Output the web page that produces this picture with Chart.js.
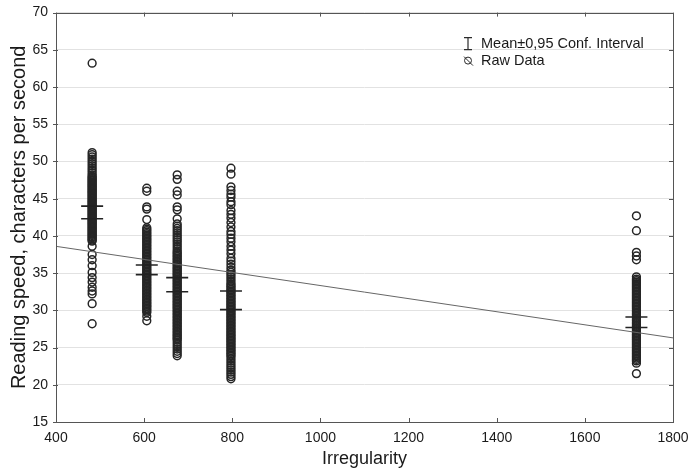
<!DOCTYPE html>
<html>
<head>
<meta charset="utf-8">
<script src="https://cdn.jsdelivr.net/npm/chart.js@4"></script>
<style>
html,body{margin:0;padding:0;background:#fff;}
#wrap{width:689px;height:471px;position:relative;}
</style>
</head>
<body>
<div id="wrap"><canvas id="c"></canvas></div>
<script>
// ---- data ----
const groupX = [482, 606, 675, 797, 1717];
const raw482 = [63.2, 51.2, 50.9, 50.6, 50.3, 50.0, 49.7, 49.4, 49.1, 48.8, 48.5, 48.2, 48.0, 47.85, 47.7, 47.55, 47.4, 47.25, 47.1, 46.95, 46.8, 46.65, 46.5, 46.35, 46.2, 46.05, 45.9, 45.75, 45.6, 45.45, 45.3, 45.15, 45.0, 44.85, 44.7, 44.55, 44.4, 44.25, 44.1, 43.95, 43.8, 43.65, 43.5, 43.35, 43.2, 43.05, 42.9, 42.75, 42.6, 42.45, 42.3, 42.15, 42.0, 41.85, 41.7, 41.55, 41.4, 41.25, 41.1, 40.95, 40.8, 40.65, 40.5, 40.35, 40.2, 40.05, 39.9, 39.75, 39.6, 39.45, 39.3, 38.6, 37.5, 36.8, 36.0, 35.1, 34.4, 33.8, 33.1, 32.6, 32.2, 30.9, 28.2];
const raw606 = [46.4, 46.0, 43.9, 43.6, 42.2, 41.1, 40.9, 40.7, 40.5, 40.3, 40.1, 39.9, 39.7, 39.5, 39.3, 39.1, 38.9, 38.7, 38.5, 38.3, 38.1, 37.9, 37.7, 37.5, 37.3, 37.1, 36.9, 36.7, 36.5, 36.3, 36.1, 35.9, 35.7, 35.5, 35.3, 35.1, 34.9, 34.7, 34.5, 34.3, 34.1, 33.9, 33.7, 33.5, 33.3, 33.1, 32.9, 32.7, 32.5, 32.3, 32.1, 31.9, 31.7, 31.5, 31.3, 31.1, 30.9, 30.7, 30.5, 30.3, 30.1, 29.9, 29.7, 29.2, 28.6];
const raw675 = [48.2, 47.6, 46.0, 45.5, 43.9, 43.5, 42.3, 41.6, 41.3, 41.0, 40.7, 40.4, 40.1, 39.8, 39.5, 39.2, 38.9, 38.6, 38.3, 38.0, 37.8, 37.6, 37.4, 37.2, 37.0, 36.8, 36.6, 36.4, 36.2, 36.0, 35.8, 35.6, 35.4, 35.2, 35.0, 34.8, 34.6, 34.4, 34.2, 34.0, 33.8, 33.6, 33.4, 33.2, 33.0, 32.8, 32.6, 32.4, 32.2, 32.0, 31.8, 31.6, 31.4, 31.2, 31.0, 30.8, 30.6, 30.4, 30.2, 30.0, 29.8, 29.6, 29.4, 29.2, 29.0, 28.8, 28.6, 28.4, 28.2, 28.0, 27.8, 27.6, 27.4, 27.2, 27.0, 26.8, 26.6, 26.4, 26.2, 26.0, 25.7, 25.4, 25.1, 24.8, 24.5, 24.2, 23.9];
const raw797 = [49.1, 48.3, 46.6, 46.1, 45.6, 45.2, 44.6, 44.2, 43.4, 42.9, 42.4, 41.8, 41.2, 40.6, 40.2, 39.7, 39.2, 38.6, 38.1, 37.6, 37.0, 36.6, 36.2, 35.8, 35.4, 35.1, 34.8, 34.5, 34.2, 33.9, 33.6, 33.4, 33.2, 33.0, 32.8, 32.6, 32.4, 32.2, 32.0, 31.8, 31.6, 31.4, 31.2, 31.0, 30.8, 30.6, 30.4, 30.2, 30.0, 29.8, 29.6, 29.4, 29.2, 29.0, 28.8, 28.6, 28.4, 28.2, 28.0, 27.8, 27.6, 27.4, 27.2, 27.0, 26.8, 26.6, 26.4, 26.2, 26.0, 25.8, 25.6, 25.4, 25.2, 25.0, 24.8, 24.6, 24.4, 24.2, 24.0, 23.8, 23.5, 23.2, 22.9, 22.6, 22.3, 22.0, 21.7, 21.4, 21.1, 20.8];
const raw1717 = [42.7, 40.7, 37.8, 37.3, 36.8, 34.5, 34.2, 34.0, 33.8, 33.6, 33.4, 33.2, 33.0, 32.8, 32.6, 32.4, 32.2, 32.0, 31.8, 31.6, 31.4, 31.2, 31.0, 30.8, 30.6, 30.4, 30.2, 30.0, 29.8, 29.6, 29.4, 29.2, 29.0, 28.8, 28.6, 28.4, 28.2, 28.0, 27.8, 27.6, 27.4, 27.2, 27.0, 26.8, 26.6, 26.4, 26.2, 26.0, 25.8, 25.6, 25.4, 25.2, 25.0, 24.8, 24.6, 24.4, 24.2, 24.0, 23.8, 23.6, 23.4, 23.2, 22.9, 21.5];
const ciUpper = [44.0, 36.1, 34.4, 32.6, 29.1];
const ciLower = [42.3, 34.8, 32.5, 30.1, 27.7];
const fitX = [400, 1800];
const fitY = [38.6, 26.3];
const xTicks = [400, 600, 800, 1000, 1200, 1400, 1600, 1800];
const yTicks = [15, 20, 25, 30, 35, 40, 45, 50, 55, 60, 65, 70];
const legendLabels = ['Mean\u00b10,95 Conf. Interval', 'Raw Data'];
const xTitle = 'Irregularity';
const yTitle = 'Reading speed, characters per second';

// ---- build datasets ----
const rawGroups = [raw482, raw606, raw675, raw797, raw1717];
const rawPoints = [];
rawGroups.forEach((g, i) => g.forEach(v => rawPoints.push({x: groupX[i], y: v})));
const capPoints = [];
groupX.forEach((x, i) => { capPoints.push({x, y: ciUpper[i]}); capPoints.push({x, y: ciLower[i]}); });
const fitPoints = fitX.map((x, i) => ({x, y: fitY[i]}));

const FONT = '"Liberation Sans", Arial, sans-serif';
const DARK = '#2b2b2b';

const framePlugin = {
  id: 'frame',
  afterDatasetsDraw(chart) {
    const {ctx, chartArea: a, scales} = chart;
    ctx.save();
    ctx.strokeStyle = '#555';
    ctx.lineWidth = 1;
    ctx.strokeRect(Math.round(a.left) + 0.5, Math.round(a.top) + 0.5, Math.round(a.right - a.left), Math.round(a.bottom - a.top));
    ctx.beginPath();
    xTicks.forEach(v => {
      const px = Math.round(scales.x.getPixelForValue(v)) + 0.5;
      ctx.moveTo(px, a.bottom); ctx.lineTo(px, a.bottom - 4);
      ctx.moveTo(px, a.top); ctx.lineTo(px, a.top + 4);
    });
    yTicks.forEach(v => {
      const py = Math.round(scales.y.getPixelForValue(v)) + 0.5;
      ctx.moveTo(a.left - 3, py); ctx.lineTo(a.left + 2, py);
      ctx.moveTo(a.right, py); ctx.lineTo(a.right - 4, py);
    });
    ctx.stroke();
    // legend
    const lx = a.left + 412, ly1 = a.top + 31, ly2 = a.top + 48;
    ctx.strokeStyle = DARK;
    ctx.lineWidth = 1.2;
    ctx.beginPath();
    ctx.moveTo(lx, ly1 - 6); ctx.lineTo(lx, ly1 + 6);
    ctx.moveTo(lx - 4, ly1 - 6); ctx.lineTo(lx + 4, ly1 - 6);
    ctx.moveTo(lx - 4, ly1 + 6); ctx.lineTo(lx + 4, ly1 + 6);
    ctx.stroke();
    ctx.lineWidth = 1;
    ctx.beginPath();
    ctx.arc(lx, ly2, 3.5, 0, Math.PI * 2);
    ctx.stroke();
    ctx.beginPath();
    ctx.moveTo(lx - 4, ly2 - 4); ctx.lineTo(lx + 5, ly2 + 5);
    ctx.stroke();
    ctx.fillStyle = '#1a1a1a';
    ctx.font = '14.5px ' + FONT;
    ctx.textBaseline = 'middle';
    ctx.textAlign = 'left';
    ctx.fillText(legendLabels[0], lx + 13, ly1);
    ctx.fillText(legendLabels[1], lx + 13, ly2);
    ctx.restore();
  }
};

new Chart(document.getElementById('c'), {
  type: 'scatter',
  data: {
    datasets: [
      {
        label: legendLabels[1],
        data: rawPoints,
        pointStyle: 'circle',
        pointRadius: 3.9,
        pointBorderWidth: 1.5,
        pointBorderColor: '#262626',
        pointBackgroundColor: 'rgba(0,0,0,0)',
        order: 3
      },
      {
        label: 'fit',
        type: 'line',
        data: fitPoints,
        showLine: true,
        borderColor: '#666',
        borderWidth: 1,
        pointRadius: 0,
        order: 2
      },
      {
        label: legendLabels[0],
        data: capPoints,
        pointStyle: 'line',
        pointRadius: 11,
        pointBorderWidth: 1.6,
        pointBorderColor: '#222',
        order: 1
      }
    ]
  },
  options: {
    responsive: true,
    maintainAspectRatio: false,
    animation: false,
    events: [],
    layout: {padding: {top: 12, right: 16, left: 0, bottom: 0}},
    plugins: {legend: {display: false}, tooltip: {enabled: false}},
    scales: {
      x: {
        type: 'linear', min: 400, max: 1800,
        afterBuildTicks: s => { s.ticks = xTicks.map(v => ({value: v})); },
        afterFit: s => { s.height = 49; s.paddingLeft = 0; s.paddingRight = 0; },
        grid: {display: false, drawTicks: false},
        border: {display: false},
        ticks: {color: '#1a1a1a', font: {family: FONT, size: 14}, padding: 8, maxRotation: 0, callback: v => String(v)},
        title: {display: true, text: xTitle, color: '#1a1a1a', font: {family: FONT, size: 18}, padding: {top: 0, bottom: 1}}
      },
      y: {
        type: 'linear', min: 15, max: 70,
        afterBuildTicks: s => { s.ticks = yTicks.map(v => ({value: v})); },
        afterFit: s => { s.width = 56; s.paddingTop = 0; s.paddingBottom = 0; },
        grid: {color: '#e2e2e2', drawTicks: false, lineWidth: 1},
        border: {display: false},
        ticks: {color: '#1a1a1a', font: {family: FONT, size: 14}, padding: 8},
        title: {display: true, text: yTitle, color: '#1a1a1a', font: {family: FONT, size: 20}, padding: {top: 7, bottom: 0}}
      }
    }
  },
  plugins: [framePlugin]
});
</script>
</body>
</html>
